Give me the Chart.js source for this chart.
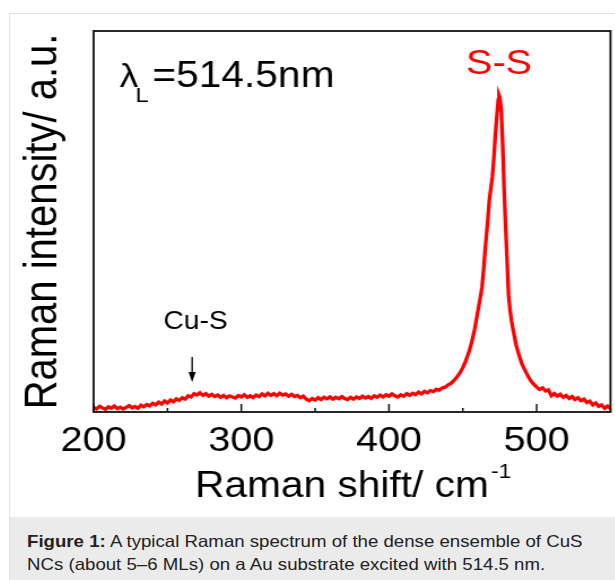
<!DOCTYPE html>
<html>
<head>
<meta charset="utf-8">
<script src="https://cdn.jsdelivr.net/npm/chart.js@4"></script>
<style>
  html, body { margin: 0; padding: 0; background: #fff; overflow: hidden; }
  #box { position: absolute; left: 9px; top: 13px; width: 640px; height: 620px; border: 1px solid #e2e2e2; background: #fff; }
  #cw { position: relative; width: 540px; height: 503px; transform: scaleX(1.13); transform-origin: 0 0; }
  #cap { background: #ebebeb; height: 120px; box-sizing: border-box; padding: 13px 0 0 17px; }
  #capt { display: inline-block; white-space: nowrap; transform: scaleX(1.13); transform-origin: 0 0;
          font-family: "Liberation Sans", Arial, sans-serif; font-size: 16.5px; line-height: 23px; color: #222; }
</style>
</head>
<body>
<div id="box">
  <div id="cw"><canvas id="c"></canvas></div>
  <div id="cap"><span id="capt"><b>Figure 1:</b> A typical Raman spectrum of the dense ensemble of CuS<br>NCs (about 5–6 MLs) on a Au substrate excited with 514.5 nm.</span></div>
</div>
<script>
// Raman shift (cm^-1)
const ramanShift = [
  200,202,204,206,208,210,212,214,216,218,220,222,224,226,228,230,232,234,236,238,
  240,242,244,246,248,250,252,254,256,258,260,262,264,266,268,270,272,274,276,278,
  280,282,284,286,288,290,292,294,296,298,300,302,304,306,308,310,312,314,316,318,
  320,322,324,326,328,330,332,334,336,338,340,342,344,346,348,350,352,354,356,358,
  360,362,364,366,368,370,372,374,376,378,380,382,384,386,388,390,392,394,396,398,
  400,402,404,406,408,410,412,414,416,418,420,422,424,426,428,430,432,434,436,438,
  440,442,444,446,448,450,452,454,456,458,460,462,463,464,465,466,467,468,469,470,
  471,472,473,474,474.5,475,476,477,478,479,480,481,482,483,484,486,488,490,492,494,
  496,498,500,502,504,506,508,510,512,514,516,518,520,522,524,526,528,530,532,534,
  536,538,540,542,544,546,548,550
];
// Raman intensity (a.u.)
const intensity = [
  1.2,0.8,1.5,1.1,0.7,1.4,1.0,1.6,0.9,1.3,0.8,1.2,1.7,1.1,1.5,1.0,1.8,1.4,2.0,1.6,
  2.3,1.9,2.6,2.1,2.9,2.4,3.2,2.7,3.5,3.1,3.8,3.4,4.3,4.0,4.9,4.5,5.1,4.4,4.9,4.2,
  4.7,4.1,4.5,3.9,4.4,3.8,4.3,4.0,3.7,4.4,4.0,4.6,3.9,4.3,3.8,4.5,4.1,4.8,4.3,5.0,
  4.4,4.9,4.3,5.0,4.5,4.8,4.2,4.7,4.1,4.4,3.8,4.2,3.4,3.0,3.6,3.2,3.8,3.3,3.9,3.5,
  4.0,3.4,3.9,3.5,4.1,3.6,3.3,3.9,3.4,4.0,3.6,4.2,3.7,4.1,3.6,4.3,3.9,4.5,4.0,4.6,
  4.2,4.8,4.3,4.0,4.6,4.2,4.9,4.4,5.0,4.6,5.3,4.8,5.5,5.1,5.7,5.4,6.0,5.8,6.4,6.6,
  7.2,7.6,8.4,9.3,10.4,11.8,13.6,15.8,18.5,22.0,26.4,30.8,33.2,37.5,42.5,47.0,51.5,56.5,59.5,62.5,
  67.5,73.5,78.5,83.0,84.3,83.8,80.5,71.0,59.0,49.0,40.0,31.0,27.0,24.2,22.0,18.0,15.2,12.8,11.2,9.6,
  8.3,7.4,6.6,6.0,6.4,5.6,5.9,4.3,4.9,4.2,4.7,3.9,4.4,3.6,4.1,3.3,3.8,3.0,3.4,2.5,
  2.9,1.9,2.4,1.5,1.9,1.0,1.6,0.9
];
// x tick values and which of them carry a label
const xTickValues = [200, 250, 300, 350, 400, 450, 500, 550];
const xTickLabels = ['200', '', '300', '', '400', '', '500', ''];

const FONT = '"Liberation Sans", Arial, sans-serif';
Chart.defaults.font.family = FONT;
Chart.defaults.color = '#000';

const points = ramanShift.map((v, i) => ({ x: v, y: intensity[i] }));

const decor = {
  id: 'decor',
  afterDatasetsDraw(chart) {
    const { ctx, chartArea: a, scales: { x } } = chart;
    ctx.save();
    // frame
    ctx.strokeStyle = '#111';
    ctx.lineWidth = 1.8;
    ctx.strokeRect(a.left, a.top, a.right - a.left, a.bottom - a.top);
    // inward ticks on bottom axis
    ctx.lineWidth = 1.5;
    x.ticks.forEach(t => {
      const px = x.getPixelForValue(t.value);
      const len = (t.value % 100 === 0) ? 8 : 4;
      ctx.beginPath();
      ctx.moveTo(px, a.bottom);
      ctx.lineTo(px, a.bottom - len);
      ctx.stroke();
    });
    // lambda annotation
    ctx.fillStyle = '#000';
    ctx.textAlign = 'left';
    ctx.textBaseline = 'alphabetic';
    ctx.font = '33px ' + FONT;
    ctx.fillText('λ', a.left + 23, a.top + 56);
    ctx.font = '21px ' + FONT;
    ctx.fillText('L', a.left + 37, a.top + 71);
    ctx.font = '36px ' + FONT;
    ctx.fillText('=514.5nm', a.left + 52, a.top + 56);
    // S-S label
    ctx.fillStyle = '#ff0000';
    ctx.textAlign = 'center';
    ctx.font = '35px ' + FONT;
    ctx.fillText('S-S', x.getPixelForValue(474.5), a.top + 43);
    // Cu-S label and arrow
    ctx.fillStyle = '#000';
    ctx.font = '25px ' + FONT;
    ctx.fillText('Cu-S', x.getPixelForValue(269), a.top + 298);
    const ax = x.getPixelForValue(266.7);
    ctx.strokeStyle = '#000';
    ctx.lineWidth = 1.3;
    ctx.beginPath();
    ctx.moveTo(ax, a.top + 326);
    ctx.lineTo(ax, a.top + 344);
    ctx.stroke();
    ctx.beginPath();
    ctx.moveTo(ax - 3.2, a.top + 341);
    ctx.lineTo(ax + 3.2, a.top + 341);
    ctx.lineTo(ax, a.top + 351);
    ctx.closePath();
    ctx.fill();
    // superscript of x title
    const main = 'Raman shift/ cm';
    ctx.font = '36px ' + FONT;
    const wMain = ctx.measureText(main).width;
    const wAll = ctx.measureText(main + '\u2002').width;
    const cx = (x.left + x.right) / 2;
    const endX = cx - wAll / 2 + wMain;
    ctx.textAlign = 'left';
    ctx.font = '20px ' + FONT;
    ctx.fillText('-1', endX + 2, x.bottom - 39);
    ctx.restore();
  }
};

new Chart(document.getElementById('c'), {
  type: 'line',
  data: {
    datasets: [{
      data: points,
      borderColor: '#ff0000',
      borderWidth: 3.3,
      pointRadius: 0,
      tension: 0,
      fill: false
    }]
  },
  options: {
    responsive: true,
    maintainAspectRatio: false,
    animation: false,
    events: [],
    layout: { padding: { left: 0, right: 8.6, top: 17, bottom: 0 } },
    plugins: { legend: { display: false }, tooltip: { enabled: false } },
    scales: {
      x: {
        type: 'linear',
        min: 200, max: 550,
        afterBuildTicks: s => { s.ticks = xTickValues.map(v => ({ value: v })); },
        afterFit: s => { s.height = 105; },
        grid: { display: false, drawTicks: false },
        border: { display: false },
        ticks: {
          autoSkip: false,
          maxRotation: 0,
          padding: 8,
          font: { size: 35 },
          color: '#000',
          callback: (v) => { const i = xTickValues.indexOf(v); return i >= 0 ? xTickLabels[i] : ''; }
        },
        title: {
          display: true,
          text: 'Raman shift/ cm\u2002',
          font: { size: 36 },
          color: '#000',
          padding: { top: 0, bottom: 8 }
        }
      },
      y: {
        min: 0, max: 101.3,
        afterFit: s => { s.width = 74; },
        grid: { display: false, drawTicks: false },
        border: { display: false },
        ticks: { display: false },
        title: {
          display: true,
          text: 'Raman intensity/ a.u.',
          font: { size: 40 },
          color: '#000',
          padding: { top: 6, bottom: 0 }
        }
      }
    }
  },
  plugins: [decor]
});
</script>
</body>
</html>
